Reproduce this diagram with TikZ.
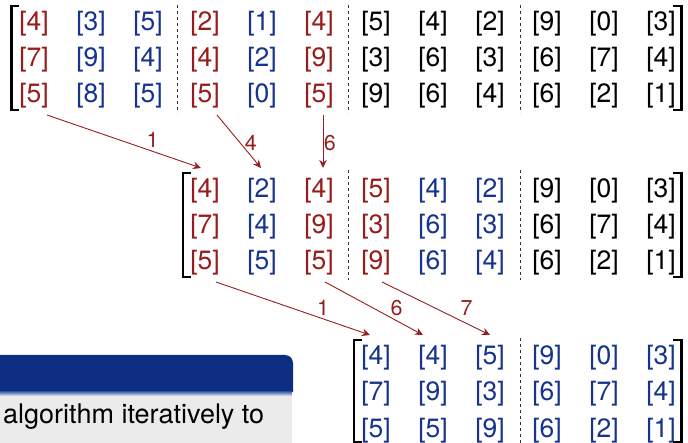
\documentclass[tikz,border=0pt]{standalone}
\usepackage{fontspec}
\setmainfont{TeX Gyre Heros}
\usetikzlibrary{arrows.meta}
\definecolor{rd}{RGB}{152,28,28}
\definecolor{bl}{RGB}{22,52,140}
\definecolor{bk}{RGB}{0,0,0}
\definecolor{titleblue}{RGB}{12,45,130}
\definecolor{shadeblue}{RGB}{80,110,180}
\definecolor{bodygray}{RGB}{235,235,235}
\definecolor{arrred}{RGB}{150,30,30}
\begin{document}
\begin{tikzpicture}[x=1pt,y=1pt,
 cell/.style={inner sep=0pt, anchor=base, font=\fontsize{26.5}{30}\selectfont},
 sepline/.style={draw=black!80, line width=0.9pt, dash pattern=on 3pt off 3pt},
 brk/.style={draw=black, line width=2.3pt},
 arr/.style={draw=arrred, line width=0.9pt, -{Stealth[length=8pt,width=7.5pt]}},
 lab/.style={text=arrred, inner sep=0.5pt, font=\fontsize{21.5}{25}\selectfont}]
\useasboundingbox (0,0) rectangle (688,-443);

% ---------- block (bottom left) ----------
\fill[titleblue] (0,-392) -- (0,-355) [rounded corners=8pt] -- (293,-355) [sharp corners] -- (293,-392) -- cycle;
\fill[bodygray] (0,-392) rectangle (292,-443);
\shade[top color=shadeblue, bottom color=bodygray] (0,-392) rectangle (292,-396);
\node[anchor=base west, inner sep=0pt, font=\fontsize{27}{32}\selectfont] (bt) at (3,-423) {algorithm iteratively to};

% ---------- matrix 1 ----------
\foreach \k/\col/\p/\q/\s in {1/rd/4/7/5, 2/bl/3/9/8, 3/bl/5/4/5, 4/rd/2/4/5, 5/bl/1/2/0, 6/rd/4/9/5,
  7/bk/5/3/9, 8/bk/4/6/6, 9/bk/2/3/4, 10/bk/9/6/6, 11/bk/0/7/2, 12/bk/3/4/1} {
  \node[cell, text=\col] (a-1-\k) at ({34+57*(\k-1)},-31) {[\p]};
  \node[cell, text=\col] (a-2-\k) at ({34+57*(\k-1)},-67) {[\q]};
  \node[cell, text=\col] (a-3-\k) at ({34+57*(\k-1)},-103) {[\s]};
}
\draw[brk] (19,-6) -- (11.5,-6) -- (11.5,-110) -- (19,-110);
\draw[brk] (673,-6) -- (681.5,-6) -- (681.5,-110) -- (673,-110);
\foreach \x in {177.5,348,520} \draw[sepline] (\x,-5) -- (\x,-113);

% ---------- matrix 2 ----------
\foreach \k/\col/\p/\q/\s in {1/rd/4/7/5, 2/bl/2/4/5, 3/rd/4/9/5, 4/rd/5/3/9, 5/bl/4/6/6, 6/bl/2/3/4,
  7/bk/9/6/6, 8/bk/0/7/2, 9/bk/3/4/1} {
  \node[cell, text=\col] (b-1-\k) at ({34+57*(\k+2)},-198) {[\p]};
  \node[cell, text=\col] (b-2-\k) at ({34+57*(\k+2)},-234) {[\q]};
  \node[cell, text=\col] (b-3-\k) at ({34+57*(\k+2)},-270) {[\s]};
}
\draw[brk] (191,-173) -- (183,-173) -- (183,-277) -- (191,-277);
\draw[brk] (673,-173) -- (681.5,-173) -- (681.5,-277) -- (673,-277);
\foreach \x in {348,520} \draw[sepline] (\x,-170) -- (\x,-280);

% ---------- matrix 3 ----------
\foreach \k/\p/\q/\s in {1/4/7/5, 2/4/9/5, 3/5/3/9, 4/9/6/6, 5/0/7/2, 6/3/4/1} {
  \node[cell, text=bl] (c-1-\k) at ({34+57*(\k+5)},-365) {[\p]};
  \node[cell, text=bl] (c-2-\k) at ({34+57*(\k+5)},-401) {[\q]};
  \node[cell, text=bl] (c-3-\k) at ({34+57*(\k+5)},-437) {[\s]};
}
\draw[brk] (362,-340) -- (354,-340) -- (354,-442) -- (362,-442);
\draw[brk] (673,-340) -- (681.5,-340) -- (681.5,-442) -- (673,-442);
\draw[sepline] (520,-338) -- (520,-445);

% ---------- arrows ----------
\draw[arr] ([shift={(13,-12)}]a-3-1.base) -- node[lab, pos=0.64, anchor=south west] {1} ([shift={(-4,30)}]b-1-1.base);
\draw[arr] ([shift={(12,-12)}]a-3-4.base) -- node[lab, pos=0.53, anchor=west, xshift=3.5pt] {4} ([shift={(-1,30)}]b-1-2.base);
\draw[arr] ([shift={(4,-12)}]a-3-6.base) -- node[lab, pos=0.53, anchor=west] {6} ([shift={(4,30)}]b-1-3.base);

\draw[arr] ([shift={(11,-12)}]b-3-1.base) -- node[lab, pos=0.65, anchor=south west] {1} ([shift={(-6,30)}]c-1-1.base);
\draw[arr] ([shift={(6,-12)}]b-3-3.base) -- node[lab, pos=0.66, anchor=south west] {6} ([shift={(-10,30)}]c-1-2.base);
\draw[arr] ([shift={(6,-12)}]b-3-4.base) -- node[lab, pos=0.72, anchor=south west, yshift=3.5pt] {7} ([shift={(0,30)}]c-1-3.base);
\end{tikzpicture}
\end{document}
